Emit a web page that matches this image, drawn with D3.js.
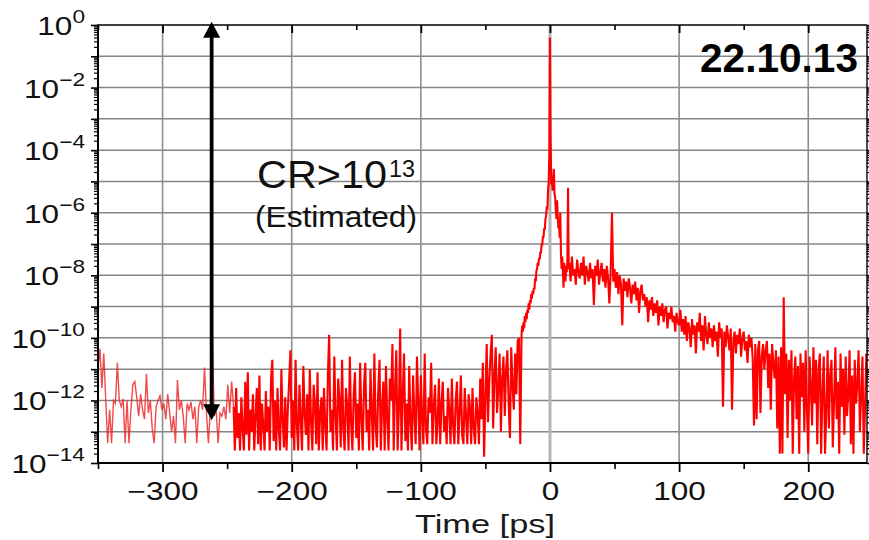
<!DOCTYPE html>
<html><head><meta charset="utf-8">
<script src="https://cdn.jsdelivr.net/npm/d3@7"></script>
<style>body{margin:0;background:#fff}svg{display:block;font-family:"Liberation Sans",Arial,sans-serif}</style>
</head><body>
<svg id="c" width="869" height="540"></svg>
<script>
// ---- axis ticks ----
const xTicks = [-300, -200, -100, 0, 100, 200];
const xMinorTicks = [-350, -250, -150, -50, 50, 150];
const yLabelExps = [0, -2, -4, -6, -8, -10, -12, -14];
const yGridExps = [-1, -2, -3, -4, -5, -6, -7, -8, -9, -10, -11, -12, -13];

// ---- trace (log10 of intensity), sampled segments ----
const leftStart = -350, leftStep = 1.5;
const leftExp = [-11.0,-10.35,-11.6,-10.5,-12.0,-13.37,-12.3,-13.37,-12.0,-12.1,
 -10.8,-12.0,-12.2,-11.95,-13.37,-12.0,-13.37,-12.3,-11.5,-11.4,
 -11.9,-12.5,-11.8,-12.3,-12.6,-11.15,-12.4,-12.0,-12.9,-13.37,
 -12.2,-12.0,-11.85,-12.3,-12.1,-12.6,-11.8,-12.4,-13.0,-12.5,
 -13.37,-11.35,-12.3,-12.0,-12.5,-13.37,-12.1,-12.3,-12.05,-12.6,
 -12.2,-13.37,-12.2,-12.0,-12.3,-10.95,-12.4,-13.37,-12.3,-9.9,
 -12.5,-12.3,-13.37,-12.4,-12.5,-12.2,-12.6,-11.5,-12.4,-11.4];

const denseStart = -245, denseStep = 1;
const denseExp = [-12.2,-13.6,-11.6,-13.2,-12.4,-13.6,-11.9,-12.9,-13.6,-11.4,
 -13.1,-11.1,-13.6,-12.3,-13.0,-11.8,-13.6,-12.5,-11.6,-13.4,
 -11.2,-13.6,-12.1,-12.8,-13.6,-11.7,-13.0,-12.2,-13.6,-11.3,
 -10.7,-13.3,-12.0,-13.6,-11.6,-12.9,-13.6,-11.0,-12.6,-13.5,
 -11.9,-13.6,-12.3,-11.4,-10.4,-13.2,-12.0,-13.6,-10.7,-12.8,
 -13.6,-11.5,-12.6,-13.6,-10.9,-12.4,-13.1,-11.8,-13.6,-11.0,
 -12.7,-13.6,-11.5,-12.1,-13.4,-11.1,-13.6,-12.4,-11.9,-13.6,
 -11.6,-12.8,-13.6,-11.2,-9.9,-13.0,-12.3,-13.6,-10.6,-12.5,
 -13.6,-11.3,-12.0,-13.5,-10.7,-12.9,-13.6,-11.6,-12.2,-13.6,
 -10.6,-12.7,-13.6,-11.8,-11.1,-13.2,-12.1,-13.6,-10.8,-12.6,
 -13.6,-11.5,-10.8,-13.0,-12.3,-13.6,-11.0,-12.4,-13.6,-10.5,
 -12.8,-13.5,-11.7,-10.7,-13.6,-12.2,-11.4,-13.6,-10.9,-12.6,
 -13.6,-11.3,-12.0,-10.2,-13.6,-11.6,-10.4,-13.6,-12.3,-9.7,
 -13.6,-11.8,-10.5,-13.3,-12.1,-13.6,-10.9,-12.7,-13.6,-11.2,
 -12.5,-13.4,-10.6,-12.0,-13.6,-11.2,-12.6,-13.4,-10.5,-12.9,
 -13.4,-11.9,-12.4,-10.8,-13.4,-12.2,-11.5,-13.4,-12.7,-11.3,
 -13.4,-12.1,-11.4,-13.0,-12.5,-13.4,-11.6,-12.3,-13.4,-11.3,
 -12.8,-13.4,-12.0,-11.4,-13.4,-12.4,-11.2,-13.1,-13.4,-11.6,
 -12.5,-13.4,-11.8,-12.2,-13.4,-11.6,-12.9,-13.4,-11.9,-12.4,
 -13.4,-11.3,-12.6,-10.8,-13.8,-11.9,-10.2,-12.7,-11.4,-10.5,
 -9.9,-12.9,-11.2,-10.3,-12.4,-11.6,-10.5,-13.0,-11.3,-10.6,
 -12.5,-11.0,-10.4,-12.1,-13.2,-10.3,-11.5,-12.3,-10.5,-11.8,
 -10.1,-10.0,-13.4];

const peakStart = -22, peakStep = 0.5;
const peakExp = [-9.9,-9.6,-9.8,-9.5,-9.7,-9.3,-9.5,-9.2,-9.4,-9.1,
 -9.2,-8.9,-9.1,-8.8,-8.9,-8.6,-8.75,-8.5,-8.6,-8.4,
 -8.45,-8.1,-8.2,-7.85,-7.8,-7.6,-7.7,-7.45,-7.5,-7.25,
 -7.3,-7.0,-7.05,-6.75,-6.8,-6.5,-6.55,-6.2,-6.1,-5.8,
 -5.9,-5.3,-5.0,-4.2,-0.4,-3.6,-5.1,-4.9,-5.3,-4.9,
 -4.6,-5.4,-5.5,-5.9,-6.2,-5.6,-6.1,-6.5,-6.3,-6.8,
 -6.0,-7.3,-7.8,-7.4,-7.9,-8.4,-7.6,-7.9,-8.2,-7.7,
 -7.9,-7.5,-5.2,-7.8];

const tailStart = 15, tailStep = 1;
const tailExp = [-7.6,-8.2,-7.4,-8.0,-7.8,-8.3,-7.5,-7.9,-8.1,-7.6,
 -8.0,-7.4,-8.3,-7.7,-7.9,-8.2,-7.6,-8.1,-7.8,-8.95,
 -7.7,-8.0,-7.5,-8.3,-7.9,-7.6,-8.2,-7.8,-8.4,-7.7,
 -8.1,-8.9,-7.9,-6.0,-8.2,-7.8,-8.4,-7.9,-8.6,-8.0,
 -8.3,-9.6,-8.1,-8.5,-8.2,-8.7,-8.1,-8.4,-8.9,-8.3,
 -8.6,-8.2,-8.8,-8.4,-9.2,-8.5,-8.3,-8.8,-8.6,-9.0,
 -8.7,-9.5,-8.8,-9.1,-8.7,-9.3,-8.9,-9.2,-8.8,-9.6,
 -9.0,-9.3,-8.9,-9.5,-9.1,-9.0,-9.7,-9.2,-9.4,-9.0,
 -9.5,-9.3,-9.8,-9.2,-9.5,-9.6,-9.1,-9.8,-9.4,-9.9,
 -9.3,-10.1,-9.5,-9.7,-10.3,-9.4,-9.9,-9.6,-10.5,-9.5,
 -9.8,-9.2,-10.1,-9.6,-10.4,-9.3,-9.9,-10.2,-9.5,-10.0,
 -9.7,-10.3,-9.6,-10.1,-9.8,-10.6,-9.5,-10.0,-9.7,-12.2,
 -9.8,-10.3,-9.6,-10.0,-10.4,-9.7,-12.3,-10.1,-9.8,-10.5,
 -9.9,-10.2,-9.7,-10.6,-10.0,-9.8,-10.4,-10.1,-10.8,-9.9,
 -10.3,-10.0,-10.7,-12.8,-10.2,-12.6,-10.4,-10.1,-12.4,-10.6,
 -10.2,-11.0,-10.4,-10.1,-11.6,-10.5,-12.3,-10.2,-10.8,-11.3,
 -10.4,-12.9,-10.6,-13.7,-10.3,-13.7,-8.7,-11.8,-10.5,-13.2,
 -10.7,-12.0,-10.4,-13.7,-11.3,-10.6,-12.6,-10.9,-13.7,-10.5,
 -11.9,-10.8,-13.0,-10.4,-12.3,-13.7,-10.6,-11.5,-12.8,-10.3,
 -12.1,-10.7,-13.4,-11.0,-10.5,-13.7,-11.7,-10.6,-13.7,-12.4,
 -10.4,-12.9,-11.2,-10.7,-13.5,-12.0,-10.3,-12.6,-11.4,-13.7,
 -10.5,-12.2,-11.0,-13.1,-10.6,-12.5,-11.8,-10.4,-13.4,-11.2,
 -13.7,-10.7,-12.1,-11.5,-10.4,-13.0,-11.8,-10.6,-13.7,-12.2,-10.5];

// annotation: double arrow (time, top exponent, bottom exponent)
const arrowTime = -262, arrowTopExp = 0.1, arrowBotExp = -12.63;

// ---- build ----
const svg = d3.select("#c");
const L = 98, R = 867, T = 25, B = 463;
const x = d3.scaleLinear().domain([-350, 245.5]).range([L, R]);
const y = d3.scaleLog().domain([1e-14, 1]).range([B, T]);

function seg(start, step, vals) { return vals.map((e, i) => ({t: start + i * step, e})); }
const sparse = seg(leftStart, leftStep, leftExp);
const main = [].concat(seg(denseStart, denseStep, denseExp),
  seg(peakStart, peakStep, peakExp), seg(tailStart, tailStep, tailExp));

// grid
const grid = svg.append("g");
grid.selectAll("line.h").data(yGridExps).join("line")
  .attr("x1", L).attr("x2", R).attr("y1", d => y(10 ** d)).attr("y2", d => y(10 ** d))
  .attr("stroke", "#858585").attr("stroke-width", 1.5);
grid.selectAll("line.v").data(xTicks).join("line")
  .attr("x1", d => x(d)).attr("x2", d => x(d)).attr("y1", T).attr("y2", B)
  .attr("stroke", d => d === 0 ? "#b4b4b4" : "#8e8e8e").attr("stroke-width", d => d === 0 ? 3 : 1.6);

// clip
svg.append("clipPath").attr("id", "clip").append("rect").attr("x", L).attr("y", T - 2).attr("width", R - L).attr("height", B - T + 2);

// trace
const line = d3.line().x(d => x(d.t)).y(d => y(10 ** d.e));
svg.append("path").datum(sparse.concat([main[0]])).attr("d", line).attr("clip-path", "url(#clip)")
  .attr("fill", "none").attr("stroke", "#ee2a2a").attr("stroke-width", 1.4).attr("stroke-opacity", 0.85);
svg.append("path").datum(main).attr("d", line).attr("clip-path", "url(#clip)")
  .attr("fill", "none").attr("stroke", "#ff0000").attr("stroke-width", 2.1)
  .attr("stroke-linejoin", "miter");

// y minor tick values (2..9 per decade)
const yMinor = [];
for (let d = -14; d < 0; d++) for (let k = 2; k <= 9; k++) yMinor.push(k * 10 ** d);
const yMajor = d3.range(-14, 1).map(e => 10 ** e);

function styleAxis(g, w) {
  g.select(".domain").remove();
  g.selectAll(".tick line").attr("stroke", "#000").attr("stroke-width", w);
}
// left
svg.append("g").attr("transform", `translate(${L},0)`).call(d3.axisLeft(y).tickValues(yMinor).tickSize(4).tickFormat("")).call(g => styleAxis(g, 1.2));
svg.append("g").attr("transform", `translate(${L},0)`).call(d3.axisLeft(y).tickValues(yMajor).tickSize(7).tickFormat("")).call(g => styleAxis(g, 1.6));
// right
svg.append("g").attr("transform", `translate(${R},0)`).call(d3.axisRight(y).tickValues(yMinor).tickSize(4).tickFormat("")).call(g => styleAxis(g, 1.2));
svg.append("g").attr("transform", `translate(${R},0)`).call(d3.axisRight(y).tickValues(yMajor).tickSize(7).tickFormat("")).call(g => styleAxis(g, 1.6));
// bottom
svg.append("g").attr("transform", `translate(0,${B})`).call(d3.axisBottom(x).tickValues(xMinorTicks).tickSize(6).tickFormat("")).call(g => styleAxis(g, 1.6));
const xb = svg.append("g").attr("transform", `translate(0,${B})`).call(d3.axisBottom(x).tickValues(xTicks).tickSize(9)
  .tickFormat(d => (d < 0 ? "\u2212" : "") + Math.abs(d))).call(g => styleAxis(g, 1.8));
xb.selectAll(".tick text").attr("y", 37).attr("dy", 0).attr("font-size", 25).attr("fill", "#111")
  .attr("font-family", '"Liberation Sans",Arial,sans-serif').attr("transform", "scale(1.26,1)");
// top (inward)
svg.append("g").attr("transform", `translate(0,${T})`).call(d3.axisTop(x).tickValues(xMinorTicks).tickSize(-5).tickFormat("")).call(g => styleAxis(g, 1.6));
svg.append("g").attr("transform", `translate(0,${T})`).call(d3.axisTop(x).tickValues(xTicks).tickSize(-8).tickFormat("")).call(g => styleAxis(g, 1.8));

// axis frame lines
svg.append("line").attr("x1", L).attr("x2", L).attr("y1", T).attr("y2", B + 1).attr("stroke", "#000").attr("stroke-width", 2);
svg.append("line").attr("x1", L - 1).attr("x2", R).attr("y1", B).attr("y2", B).attr("stroke", "#000").attr("stroke-width", 2);
svg.append("line").attr("x1", L - 1).attr("x2", R).attr("y1", T).attr("y2", T).attr("stroke", "#000").attr("stroke-width", 1.6);
svg.append("line").attr("x1", R).attr("x2", R).attr("y1", T).attr("y2", B).attr("stroke", "#000").attr("stroke-width", 1.4);

// y labels 10^e
const ylab = svg.append("g");
yLabelExps.forEach(e => {
  const t = ylab.append("text").attr("transform", `translate(85,${y(10 ** e) + 10}) scale(1.26,1)`)
    .attr("text-anchor", "end").attr("font-size", 25).attr("fill", "#111");
  t.append("tspan").text("10");
  t.append("tspan").attr("dy", -12).attr("font-size", 18).text((e < 0 ? "\u2212" : "") + Math.abs(e));
});

// x axis title
svg.append("text").attr("x", 415).attr("y", 533).attr("font-size", 25).attr("fill", "#1a1a1a")
  .attr("textLength", 140).attr("lengthAdjust", "spacingAndGlyphs").text("Time [ps]");

// arrow
const ax = x(arrowTime), ay1 = y(10 ** arrowTopExp), ay2 = y(10 ** arrowBotExp);
const ag = svg.append("g").attr("fill", "#000");
ag.append("line").attr("x1", ax).attr("x2", ax).attr("y1", ay1 + 12).attr("y2", ay2 - 12).attr("stroke", "#000").attr("stroke-width", 3.8);
ag.append("path").attr("d", `M${ax},${ay1} L${ax - 8.5},${ay1 + 16} L${ax + 8.5},${ay1 + 16} Z`);
ag.append("path").attr("d", `M${ax},${ay2} L${ax - 8.5},${ay2 - 16} L${ax + 8.5},${ay2 - 16} Z`);

// annotations
svg.append("text").attr("x", 257).attr("y", 188).attr("font-size", 39).attr("fill", "#111")
  .attr("textLength", 130).attr("lengthAdjust", "spacingAndGlyphs").text("CR>10");
svg.append("text").attr("x", 389).attr("y", 177).attr("font-size", 24).attr("fill", "#111")
  .attr("textLength", 26).attr("lengthAdjust", "spacingAndGlyphs").text("13");
svg.append("text").attr("x", 255).attr("y", 227).attr("font-size", 30).attr("fill", "#111")
  .attr("textLength", 162).attr("lengthAdjust", "spacingAndGlyphs").text("(Estimated)");
svg.append("text").attr("x", 700).attr("y", 72).attr("font-size", 41).attr("font-weight", "bold").attr("fill", "#000")
  .attr("textLength", 158).attr("lengthAdjust", "spacingAndGlyphs").text("22.10.13");
</script>
</body></html>
